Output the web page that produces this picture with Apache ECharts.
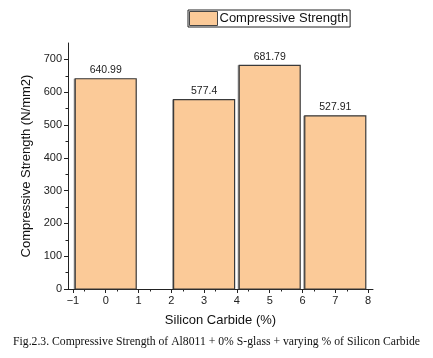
<!DOCTYPE html>
<html><head><meta charset="utf-8">
<script src="https://cdn.jsdelivr.net/npm/echarts@6/dist/echarts.min.js"></script>
<style>html,body{margin:0;padding:0;background:#fff}#c{width:433px;height:358px}</style>
</head><body><div id="c"></div>
<script>
const categories = [0, 3, 5, 7];
const strengthValues = [640.99, 577.4, 681.79, 527.91];
const xTicks = [-1, 0, 1, 2, 3, 4, 5, 6, 7, 8];
const yTicks = [0, 100, 200, 300, 400, 500, 600, 700];
const seriesName = 'Compressive Strength';
const barSpan = 1.86;

const chart = echarts.init(document.getElementById('c'), null, {renderer: 'canvas'});
const data = categories.map((c, i) => [c, strengthValues[i]]);
const font = 'Liberation Sans, Arial, sans-serif';

chart.setOption({
  animation: false,
  backgroundColor: '#fff',
  grid: {left: 68, right: 60, top: 43, bottom: 69},
  legend: {
    left: 188, top: 10,
    data: [{name: seriesName, icon: 'rect'}],
    itemWidth: 28, itemHeight: 14,
    borderColor: '#222', borderWidth: 1, borderRadius: 0,
    padding: [1, 2, 1, 1],
    textStyle: {fontSize: 13, color: '#111', fontFamily: font, padding: [0, 0, 0, -3]},
    itemStyle: {color: '#FBCA98', borderColor: '#444', borderWidth: 1}
  },
  xAxis: {
    type: 'value', min: -1.15, max: 8.15, interval: 1,
    name: 'Silicon Carbide (%)', nameLocation: 'middle', nameGap: 25,
    nameTextStyle: {fontSize: 13, color: '#111', fontFamily: font},
    axisLine: {show: true, onZero: false, lineStyle: {color: '#222', width: 1}},
    axisTick: {show: true, inside: false, length: 4, lineStyle: {color: '#222'},
      customValues: xTicks},
    minorTick: {show: true, splitNumber: 2, length: 2.5, lineStyle: {color: '#222'}},
    axisLabel: {fontSize: 11, color: '#222', fontFamily: font, margin: 6,
      customValues: xTicks,
      formatter: v => (v < 0 ? '\u2212' + Math.abs(v) : String(v))},
    splitLine: {show: false}
  },
  yAxis: {
    type: 'value', min: 0, max: 750, interval: 100,
    name: 'Compressive Strength (N/mm2)', nameLocation: 'middle', nameGap: 28,
    nameTextStyle: {fontSize: 13, color: '#111', fontFamily: font},
    axisLine: {show: true, onZero: false, lineStyle: {color: '#222', width: 1}},
    axisTick: {show: true, inside: false, length: 4, lineStyle: {color: '#222'},
      customValues: yTicks},
    minorTick: {show: true, splitNumber: 2, length: 2.5, lineStyle: {color: '#222'}},
    axisLabel: {fontSize: 11, color: '#222', fontFamily: font, margin: 6,
      customValues: yTicks},
    splitLine: {show: false}
  },
  series: [{
    name: seriesName,
    type: 'custom',
    itemStyle: {color: '#FBCA98'},
    data: data,
    renderItem: function (params, api) {
      const x = api.value(0), y = api.value(1);
      const p1 = api.coord([x - barSpan / 2, y]);
      const p2 = api.coord([x + barSpan / 2, 0]);
      return {
        type: 'group',
        children: [{
          type: 'rect',
          shape: {x: p1[0] - 1.5, y: p1[1], width: p2[0] - p1[0], height: p2[1] - p1[1]},
          style: {fill: '#999', stroke: null}
        }, {
          type: 'rect',
          shape: {x: p1[0], y: p1[1], width: p2[0] - p1[0], height: p2[1] - p1[1]},
          style: {fill: '#FBCA98', stroke: '#3a3a3a', lineWidth: 1.2}
        }, {
          type: 'text',
          x: (p1[0] + p2[0]) / 2, y: p1[1] - 3,
          style: {text: String(y), fontSize: 10.5, fill: '#222', fontFamily: font,
            align: 'center', verticalAlign: 'bottom'}
        }]
      };
    }
  }],
  graphic: [{
    type: 'text', left: 'center', top: 336,
    style: {text: 'Fig.2.3. Compressive Strength of Al8011 + 0% S-glass + varying % of Silicon Carbide',
      fontSize: 11.7, fill: '#111', fontFamily: 'Liberation Serif, Times New Roman, serif'}
  }]
});
</script></body></html>
